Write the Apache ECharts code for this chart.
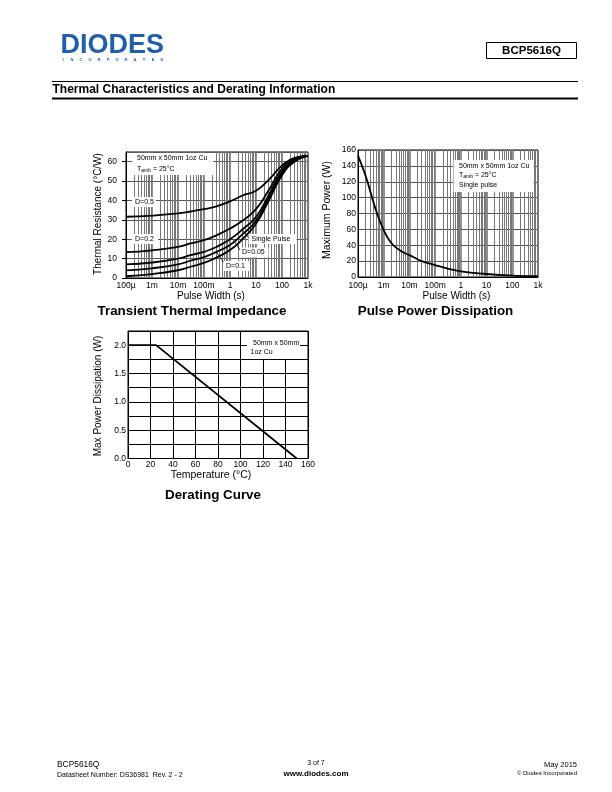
<!DOCTYPE html>
<html>
<head>
<meta charset="utf-8">
<script src="https://cdn.jsdelivr.net/npm/echarts@6/dist/echarts.min.js"></script>
<style>html,body{margin:0;padding:0;background:#fff}#c{width:612px;height:792px}</style>
</head>
<body>
<div id="c"></div>
<script>
// ---------- data ----------
const pulseLabels = ['100µ', '1m', '10m', '100m', '1', '10', '100', '1k'];

// Transient thermal impedance (°C/W) vs pulse width (s)
const zthTime   = [1e-4, 1e-3, 1e-2, 3e-2, 1e-1, 3e-1, 1, 3, 10, 30, 100, 300, 1000];
const zthD05    = [31.6, 32.2, 33.3, 34.3, 35.5, 37.0, 39.5, 42.5, 45.0, 50.5, 58.0, 62.0, 63.0];
const zthD02    = [13.3, 14.3, 16.0, 17.8, 19.5, 22.0, 25.5, 29.5, 35.5, 45.0, 56.5, 61.5, 63.0];
const zthD01    = [7.0, 8.0, 10.0, 11.8, 13.5, 16.0, 20.0, 25.0, 31.5, 42.5, 55.0, 61.0, 63.0];
const zthD005   = [3.9, 5.0, 7.0, 8.9, 10.8, 13.5, 17.0, 22.5, 29.5, 41.0, 54.0, 60.5, 63.0];
const zthSingle = [0.9, 2.0, 4.0, 5.8, 7.8, 10.5, 14.4, 20.0, 28.0, 39.5, 53.0, 60.0, 63.0];

// Pulse power dissipation (W) vs pulse width (s)
const powerTime = [1e-4, 2e-4, 5e-4, 1e-3, 2e-3, 5e-3, 1e-2, 3e-2, 1e-1, 3e-1, 1, 10, 100, 1000];
const powerW    = [153, 127, 84, 59, 42.5, 32, 27.5, 20, 15, 10.5, 7.2, 3.8, 1.8, 1.2];

// Derating curve
const tempC = [0, 25, 150];
const maxPd = [2.0, 2.0, 0.0];

// ---------- helpers ----------
const F = '"Liberation Sans", Arial, Helvetica, sans-serif';
const zip = (xs, ys) => xs.map((x, i) => [x, ys[i]]);

function logGrid(yMin, yMax) {
  const arr = [];
  for (let k = -4; k < 3; k++) {
    for (let m = 2; m <= 10; m++) {
      if (k === 2 && m === 10) continue;
      const v = m * Math.pow(10, k);
      arr.push({ coords: [[v, yMin], [v, yMax]], lineStyle: { width: m === 10 ? 1.6 : 1 } });
    }
  }
  return arr;
}

function txt(x, y, text, o) {
  o = o || {};
  return {
    type: 'text', x: x, y: y, z: o.z || 10, rotation: o.rotation || 0, silent: true,
    style: {
      text: text, fill: o.fill || '#000', fontSize: o.size || 10, fontFamily: F,
      fontWeight: o.weight || 'normal',
      align: o.align || 'left', textAlign: o.align || 'left',
      verticalAlign: 'middle', textVerticalAlign: 'middle',
      rich: o.rich
    }
  };
}
function rect(x, y, w, h, o) {
  o = o || {};
  return { type: 'rect', z: o.z || 5, silent: true, shape: { x: x, y: y, width: w, height: h },
    style: { fill: o.fill || '#fff', stroke: o.stroke || null, lineWidth: o.lw || 1 } };
}
function seg(x1, y1, x2, y2, w, z) {
  return { type: 'line', z: z || 10, silent: true, shape: { x1: x1, y1: y1, x2: x2, y2: y2 },
    style: { stroke: '#000', lineWidth: w || 1 } };
}
const tambRich = { a: { fontSize: 7, fontFamily: F }, s: { fontSize: 5, fontFamily: F, padding: [4, 0, 0, 0] } };

const logLabel = v => pulseLabels[Math.round(Math.log10(v)) + 4] || '';

function logX(grid) {
  return {
    type: 'log', gridIndex: grid, min: 1e-4, max: 1e3, logBase: 10, splitNumber: 7,
    axisLine: { show: true, lineStyle: { color: '#000', width: 1 } },
    axisTick: { show: false }, splitLine: { show: false },
    axisLabel: { formatter: logLabel, fontSize: 8.5, color: '#000', fontFamily: F, margin: 3 }
  };
}

const curveStyle = { color: '#000', width: 1.8 };
function curve(name, data, xi, smooth) {
  return { name: name, type: 'line', xAxisIndex: xi, yAxisIndex: xi, data: data, smooth: smooth,
    symbol: 'none', z: 6, lineStyle: curveStyle, itemStyle: { color: '#000' }, silent: true, animation: false };
}
function gridLines(xi, data) {
  return { type: 'lines', coordinateSystem: 'cartesian2d', xAxisIndex: xi, yAxisIndex: xi, data: data,
    z: 1, silent: true, animation: false, symbol: ['none', 'none'],
    lineStyle: { color: '#777', width: 1, opacity: 1, curveness: 0 } };
}

// ---------- chart ----------
const chart = echarts.init(document.getElementById('c'), null, { renderer: 'canvas', width: 612, height: 792 });

const option = {
  animation: false,
  backgroundColor: '#fff',
  textStyle: { fontFamily: F },
  grid: [
    { left: 126, top: 152, width: 182, height: 126, show: true, borderColor: '#000', borderWidth: 1, backgroundColor: 'transparent' },
    { left: 358, top: 150, width: 180, height: 127, show: true, borderColor: '#000', borderWidth: 1, backgroundColor: 'transparent' },
    { left: 128, top: 331, width: 180, height: 127.5, show: true, borderColor: '#000', borderWidth: 1, backgroundColor: 'transparent' }
  ],
  xAxis: [
    logX(0),
    Object.assign(logX(1), { axisLabel: { formatter: logLabel, fontSize: 8.5, color: '#000', fontFamily: F, margin: 4 } }),
    { type: 'value', gridIndex: 2, min: 0, max: 160, interval: 20,
      axisLine: { show: true, lineStyle: { color: '#000' } }, axisTick: { show: false },
      splitLine: { show: true, lineStyle: { color: '#000', width: 1 } },
      axisLabel: { fontSize: 8.5, color: '#000', fontFamily: F, margin: 2 } }
  ],
  yAxis: [
    { type: 'value', gridIndex: 0, min: 0, max: 65, interval: 10,
      axisLine: { show: true, lineStyle: { color: '#000' } },
      axisTick: { show: true, length: 4, lineStyle: { color: '#000' } },
      splitLine: { show: true, lineStyle: { color: '#555', width: 1 } },
      axisLabel: { fontSize: 8.5, color: '#000', fontFamily: F, margin: 9, showMaxLabel: false } },
    { type: 'value', gridIndex: 1, min: 0, max: 160, interval: 20,
      axisLine: { show: true, lineStyle: { color: '#000' } }, axisTick: { show: false },
      splitLine: { show: true, lineStyle: { color: '#555', width: 1 } },
      axisLabel: { fontSize: 8.5, color: '#000', fontFamily: F, margin: 2 } },
    { type: 'value', gridIndex: 2, min: 0, max: 2.25, interval: 0.25,
      axisLine: { show: true, lineStyle: { color: '#000' } }, axisTick: { show: false },
      splitLine: { show: true, lineStyle: { color: '#000', width: 1 } },
      axisLabel: { fontSize: 8.5, color: '#000', fontFamily: F, margin: 2, showMaxLabel: false,
        formatter: v => (Math.round(v * 100) % 50 === 0 ? v.toFixed(1) : '') } }
  ],
  series: [
    gridLines(0, logGrid(0, 65)),
    gridLines(1, logGrid(0, 160)),
    curve('D=0.5', zip(zthTime, zthD05), 0, true),
    curve('D=0.2', zip(zthTime, zthD02), 0, true),
    curve('D=0.1', zip(zthTime, zthD01), 0, true),
    curve('D=0.05', zip(zthTime, zthD005), 0, true),
    curve('Single Pulse', zip(zthTime, zthSingle), 0, true),
    curve('Max Power', zip(powerTime, powerW), 1, 0.3),
    curve('Derating', zip(tempC, maxPd), 2, false)
  ],
  graphic: [
    // header
    txt(60.5, 45.5, 'DIODES', { size: 27, weight: 'bold', fill: '#1f5ea8' }),
    ...'INCORPORATED'.split('').map((ch, i) => txt(63 + i * 9.0, 59.5, ch, { size: 4, weight: 'bold', fill: '#1f5ea8', align: 'center' })),
    rect(486.5, 42.5, 90, 16, { fill: 'none', stroke: '#000', lw: 1, z: 10 }),
    txt(531.5, 51, 'BCP5616Q', { size: 11.5, weight: 'bold', align: 'center' }),
    seg(52, 81.5, 578, 81.5, 1),
    txt(52.5, 90, 'Thermal Characteristics and Derating Information', { size: 12, weight: 'bold' }),
    seg(52, 98.5, 578, 98.5, 2),

    // chart 1 annotations
    rect(132, 153, 81, 22),
    txt(137, 158.5, '50mm x 50mm 1oz Cu', { size: 7 }),
    txt(137, 169, '{a|T}{s|amb}{a| = 25°C}', { size: 7, rich: tambRich }),
    rect(132, 197, 24, 10),
    txt(135, 202, 'D=0.5', { size: 7 }),
    rect(132, 234, 26, 10),
    txt(135, 239, 'D=0.2', { size: 7 }),
    rect(248.5, 234, 48, 10),
    txt(251.5, 239.5, 'Single Pulse', { size: 7 }),
    rect(239, 247.5, 29.5, 10),
    txt(242, 252.5, 'D=0.05', { size: 7 }),
    rect(223.5, 261, 26.5, 10),
    txt(226, 266, 'D=0.1', { size: 7 }),
    seg(248.5, 237.5, 242.5, 230, 0.8),
    seg(240, 250, 233, 239.5, 0.8),
    seg(223.5, 262, 216.5, 252, 0.8),

    // chart 1 titles
    txt(211, 296, 'Pulse Width (s)', { size: 10, align: 'center' }),
    txt(98.5, 214, 'Thermal Resistance (°C/W)', { size: 10, align: 'center', rotation: Math.PI / 2 }),
    txt(192, 311.5, 'Transient Thermal Impedance', { size: 13.4, weight: 'bold', align: 'center' }),

    // chart 2 annotations + titles
    rect(453.5, 160, 80, 32),
    txt(459, 166, '50mm x 50mm 1oz Cu', { size: 7 }),
    txt(459, 175, '{a|T}{s|amb}{a| = 25°C}', { size: 7, rich: tambRich }),
    txt(459, 185.5, 'Single pulse', { size: 7 }),
    txt(456.5, 296, 'Pulse Width (s)', { size: 10, align: 'center' }),
    txt(327, 210, 'Maximum Power (W)', { size: 10.5, align: 'center', rotation: Math.PI / 2 }),
    txt(435.5, 311.5, 'Pulse Power Dissipation', { size: 13.4, weight: 'bold', align: 'center' }),

    // chart 3 annotations + titles
    rect(247, 332, 53, 27),
    txt(253, 343, '50mm x 50mm', { size: 7 }),
    txt(250.5, 352.5, '1oz Cu', { size: 7 }),
    txt(211, 475.5, 'Temperature (°C)', { size: 10.5, align: 'center' }),
    txt(98.5, 396, 'Max Power Dissipation (W)', { size: 10, align: 'center', rotation: Math.PI / 2 }),
    txt(213, 495, 'Derating Curve', { size: 13.4, weight: 'bold', align: 'center' }),

    // footer
    txt(57, 764.5, 'BCP5616Q', { size: 8.4 }),
    txt(57, 775, 'Datasheet Number: DS36981  Rev. 2 - 2', { size: 7 }),
    txt(316, 763.5, '3 of 7', { size: 7, align: 'center' }),
    txt(316, 773.5, 'www.diodes.com', { size: 8, weight: 'bold', align: 'center' }),
    txt(577, 764.5, 'May 2015', { size: 7.5, align: 'right' }),
    txt(577, 773.5, '© Diodes Incorporated', { size: 6, align: 'right' })
  ]
};
chart.setOption(option);
</script>
</body>
</html>
